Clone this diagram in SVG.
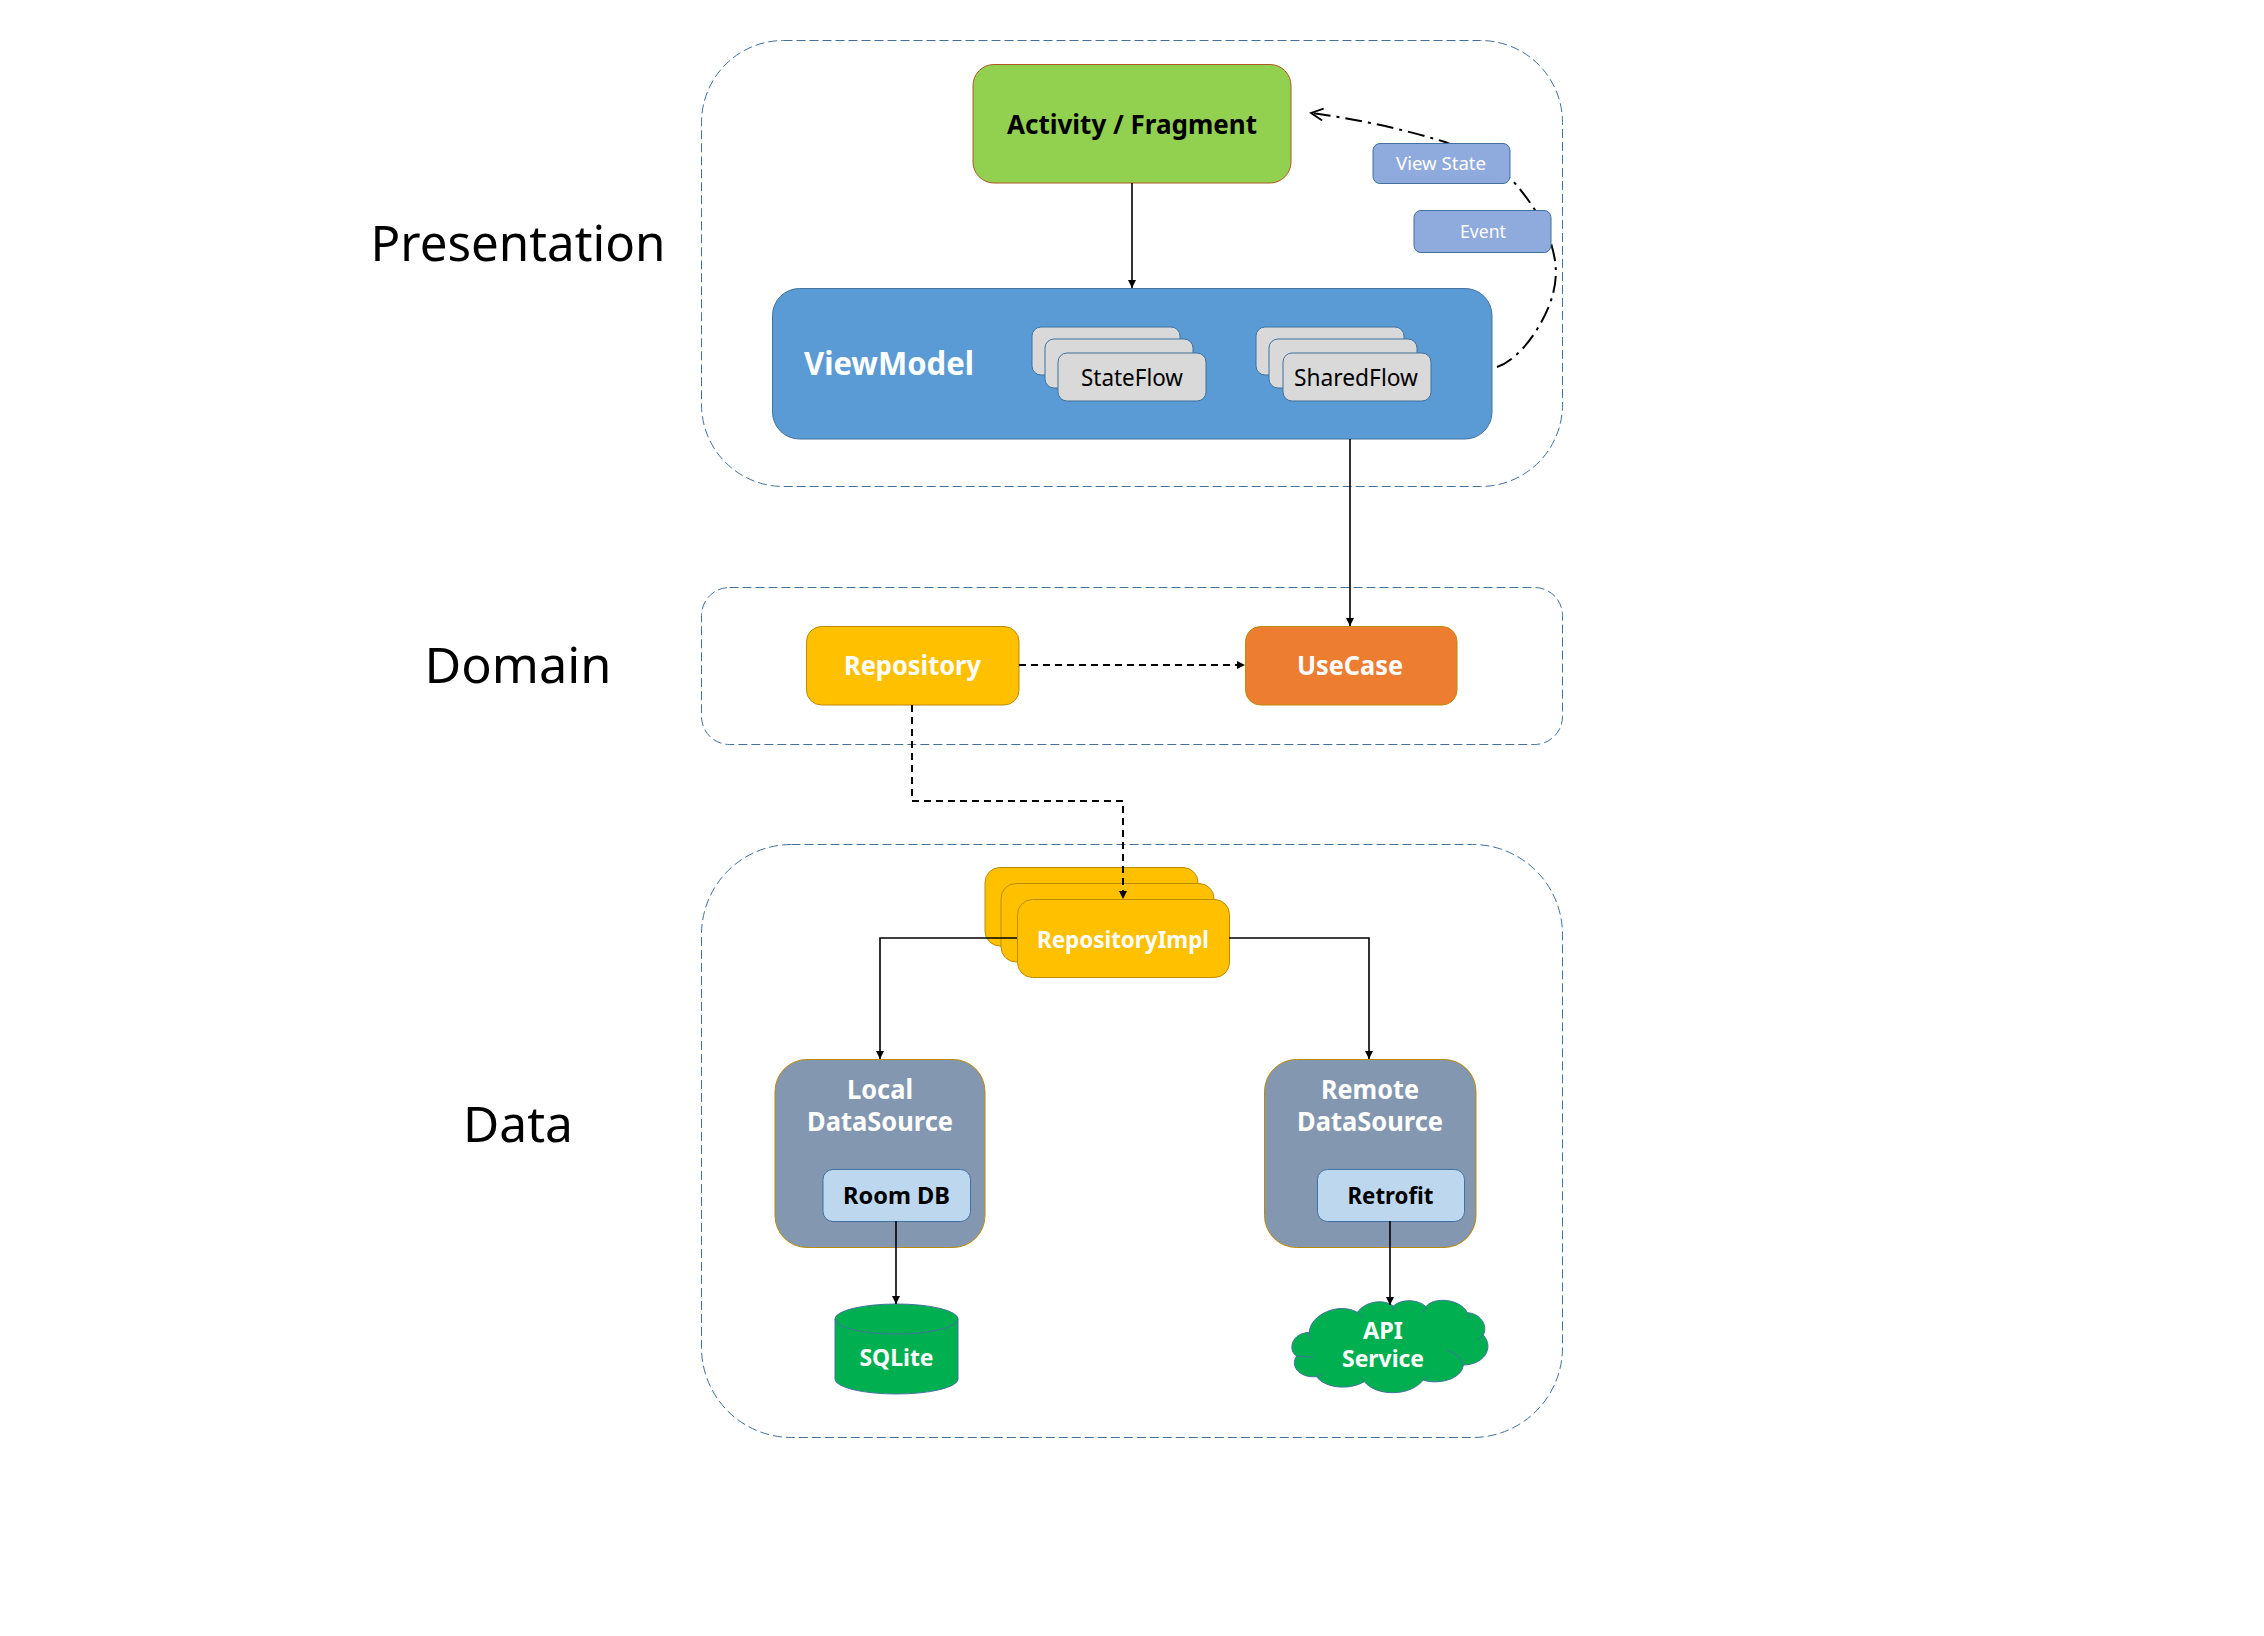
<svg xmlns="http://www.w3.org/2000/svg" width="2264" height="1636" viewBox="0 0 2264 1636">
<style>
text{font-family:"Noto Sans","Open Sans","Liberation Sans",sans-serif;text-anchor:middle}
.layer{fill:#fff;stroke:#41719C;stroke-width:1;stroke-dasharray:9 4}
.big{font-size:50px;fill:#000}
.w{fill:#fff;font-weight:700}
.k{fill:#000;font-weight:700}
.act{fill:#92D050;stroke:#AE5A21;stroke-width:1}
.vm{fill:#5B9BD5;stroke:#41719C;stroke-width:1}
.grey{fill:#D9D9D9;stroke:#41719C;stroke-width:1}
.pill{fill:#8FAADC;stroke:#41719C;stroke-width:1}
.yel{fill:#FFC000;stroke:#BC8C00;stroke-width:1}
.org{fill:#ED7D31;stroke:#BC8C00;stroke-width:1}
.ds{fill:#8497B0;stroke:#BC8C00;stroke-width:1}
.lib{fill:#BDD7EE;stroke:#41719C;stroke-width:1}
.grn{fill:#00B050;stroke:#41719C;stroke-width:1}
.c{fill:none;stroke:#000;stroke-width:1.6}
.d{stroke-dasharray:7 5;stroke-width:2}
.dd{stroke-dasharray:17 6 3 6;stroke-width:2}
</style>
<defs>
<marker id="tri" markerUnits="userSpaceOnUse" markerWidth="9" markerHeight="9" refX="8" refY="4" orient="auto"><path d="M0 0L8 4L0 8Z" fill="#000"/></marker>
<marker id="open" markerUnits="userSpaceOnUse" markerWidth="16" markerHeight="16" refX="13" refY="7" orient="auto"><path d="M1 1L13 7L1 13" fill="none" stroke="#000" stroke-width="1.8"/></marker>
</defs>
<g id="layers">
<rect id="presentation-layer" class="layer" x="701.500" y="40.500" width="861" height="446" rx="82"/>
<rect id="domain-layer" class="layer" x="701.500" y="587.500" width="861" height="157" rx="28"/>
<rect id="data-layer" class="layer" x="701.500" y="844.500" width="861" height="593" rx="90"/>
</g>
<text id="label-presentation" class="big" x="518" y="261" textLength="295" lengthAdjust="spacingAndGlyphs">Presentation</text>
<text id="label-domain" class="big" x="518" y="683" textLength="187" lengthAdjust="spacingAndGlyphs">Domain</text>
<text id="label-data" class="big" x="518" y="1142" textLength="110" lengthAdjust="spacingAndGlyphs">Data</text>
<g id="activity"><rect class="act" x="973" y="64.500" width="318" height="118.500" rx="21"/><text class="k" x="1132" y="134" font-size="26" textLength="250" lengthAdjust="spacingAndGlyphs">Activity / Fragment</text></g>
<g id="viewmodel"><rect class="vm" x="772.500" y="288.500" width="719.500" height="150.500" rx="27"/><text class="w" x="889" y="375" font-size="32" textLength="170" lengthAdjust="spacingAndGlyphs">ViewModel</text></g>
<g id="stateflow"><rect class="grey" x="1032" y="327" width="148" height="48" rx="9"/><rect class="grey" x="1045" y="339" width="148" height="49" rx="9"/><rect class="grey" x="1058" y="353" width="148" height="48" rx="9"/><text x="1132" y="386" font-size="23" fill="#000" textLength="102" lengthAdjust="spacingAndGlyphs">StateFlow</text></g>
<g id="sharedflow"><rect class="grey" x="1256" y="327" width="148" height="48" rx="9"/><rect class="grey" x="1269" y="339" width="148" height="49" rx="9"/><rect class="grey" x="1283" y="353" width="148" height="48" rx="9"/><text x="1356" y="386" font-size="23" fill="#000" textLength="124" lengthAdjust="spacingAndGlyphs">SharedFlow</text></g>
<g id="repository"><rect class="yel" x="806.500" y="626.500" width="212.500" height="78.500" rx="15"/><text class="w" x="912.500" y="675" font-size="26" textLength="137" lengthAdjust="spacingAndGlyphs">Repository</text></g>
<g id="usecase"><rect class="org" x="1245.500" y="626.500" width="211.500" height="78.500" rx="15"/><text class="w" x="1350" y="675" font-size="26" textLength="106" lengthAdjust="spacingAndGlyphs">UseCase</text></g>
<g id="repositoryimpl"><rect class="yel" x="985" y="867.500" width="213" height="78.500" rx="15"/><rect class="yel" x="1001" y="883.500" width="213" height="78.500" rx="15"/><rect class="yel" x="1017.500" y="899.500" width="212" height="78" rx="15"/><text class="w" x="1123" y="948" font-size="24" textLength="172" lengthAdjust="spacingAndGlyphs">RepositoryImpl</text></g>
<g id="local-datasource"><rect class="ds" x="775" y="1059.500" width="210" height="188" rx="32"/><text class="w" x="880" y="1099" font-size="26" textLength="66" lengthAdjust="spacingAndGlyphs">Local</text><text class="w" x="880" y="1131" font-size="26" textLength="146" lengthAdjust="spacingAndGlyphs">DataSource</text></g>
<g id="remote-datasource"><rect class="ds" x="1264.500" y="1059.500" width="211.500" height="188" rx="32"/><text class="w" x="1370" y="1099" font-size="26" textLength="98" lengthAdjust="spacingAndGlyphs">Remote</text><text class="w" x="1370" y="1131" font-size="26" textLength="146" lengthAdjust="spacingAndGlyphs">DataSource</text></g>
<g id="room-db"><rect class="lib" x="823" y="1169.500" width="147.500" height="52" rx="10"/><text class="k" x="896.500" y="1204" font-size="24" textLength="107" lengthAdjust="spacingAndGlyphs">Room DB</text></g>
<g id="retrofit"><rect class="lib" x="1317.500" y="1169.500" width="147" height="52" rx="10"/><text class="k" x="1390.500" y="1204" font-size="24" textLength="86" lengthAdjust="spacingAndGlyphs">Retrofit</text></g>
<g id="sqlite"><path class="grn" d="M835 1319A61.500 15 0 0 1 958 1319V1379A61.500 15 0 0 1 835 1379Z"/><path class="grn" style="fill:none" d="M835 1319A61.500 15 0 0 0 958 1319"/><text class="w" x="896.500" y="1366" font-size="24" textLength="74" lengthAdjust="spacingAndGlyphs">SQLite</text></g>
<g id="api-service"><g transform="translate(1270 1280) scale(.3333)"><path class="grn" style="stroke-width:3" d="M118 157C120 105 205 65 262 97C290 60 345 58 370 78C395 55 445 58 468 80C490 50 570 55 592 98C630 100 655 135 640 165C675 205 640 255 580 255C575 300 500 315 460 300C420 350 320 350 283 305C230 335 160 320 140 290C85 295 60 255 80 228C55 215 60 160 118 157Z"/><path fill="none" stroke="#41719C" stroke-width="3" d="M118 157Q118 168 122 178M262 97Q270 103 278 112M370 78Q368 86 366 92M468 80Q462 88 460 98M592 98Q598 106 598 116M640 165Q632 174 620 180M580 255Q575 225 530 210M460 300Q470 295 478 285M283 305Q278 300 272 292M140 290Q150 288 160 282M80 228Q105 228 130 232"/></g><text class="w" x="1383" y="1339" font-size="24" textLength="40" lengthAdjust="spacingAndGlyphs">API</text><text class="w" x="1383" y="1367" font-size="24" textLength="82" lengthAdjust="spacingAndGlyphs">Service</text></g>
<g id="connectors">
<path class="c" marker-end="url(#tri)" d="M1132 183V288"/>
<path class="c" marker-end="url(#tri)" d="M1350 439V626"/>
<path class="c d" marker-end="url(#tri)" d="M1019 665H1245"/>
<path class="c d" marker-end="url(#tri)" d="M912 705V801H1123V899"/>
<path class="c" marker-end="url(#tri)" d="M1017 938H880V1059"/>
<path class="c" marker-end="url(#tri)" d="M1229 938H1369V1059"/>
<path class="c" marker-end="url(#tri)" d="M896 1221V1304"/>
<path class="c" marker-end="url(#tri)" d="M1390 1221V1305"/>
<path class="c dd" marker-end="url(#open)" d="M1497 367C1517 360 1537 335 1549 306C1557 285 1558 268 1552 247C1548 232 1541 220 1535 210C1528 199 1518 186 1510 178C1490 160 1465 150 1445 142C1400 128 1350 118 1311 113"/>
</g>
<g id="view-state"><rect class="pill" x="1373" y="143.500" width="137" height="40" rx="7"/><text x="1441" y="170" font-size="18" fill="#fff" textLength="90" lengthAdjust="spacingAndGlyphs">View State</text></g>
<g id="event"><rect class="pill" x="1414" y="210.500" width="137" height="42" rx="7"/><text x="1483" y="238" font-size="18" fill="#fff" textLength="46" lengthAdjust="spacingAndGlyphs">Event</text></g>
</svg>
